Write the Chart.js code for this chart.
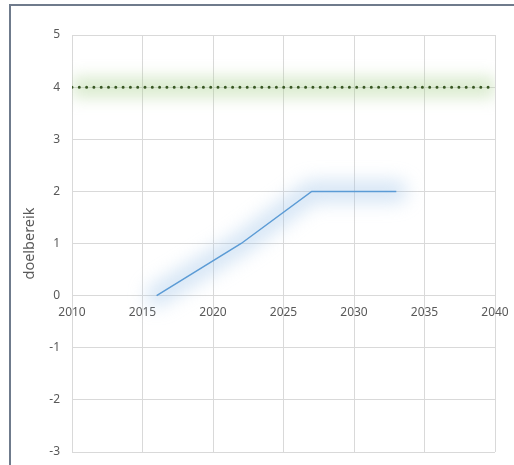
<!DOCTYPE html>
<html>
<head>
<meta charset="utf-8">
<script src="https://cdn.jsdelivr.net/npm/chart.js@4.4.1/dist/chart.umd.min.js"></script>
<style>
  html, body { margin: 0; padding: 0; background: #fff; }
  #frame {
    position: absolute; left: 9px; top: 4px; width: 503px; height: 459px;
    border-left: 2px solid #6f7b8c; border-top: 2px solid #6f7b8c;
  }
  #wrap { position: absolute; left: 0; top: 0; width: 503px; height: 459px; }
</style>
</head>
<body>
<div id="frame"><div id="wrap"><canvas id="chart"></canvas></div></div>
<script>
// data
const years = [2016, 2022, 2027, 2033];
const doelbereik = [0, 1, 2, 2];
const targetYears = [2010, 2040];
const targetValues = [4, 4];
const xRange = [2010, 2040];
const yRange = [-3, 5];

const toPoints = (xs, ys) => xs.map((x, i) => ({ x: x, y: ys[i] }));

// soft glow under the lines, like the spreadsheet effect
const glowPlugin = {
  id: 'glow',
  beforeDatasetDraw(chart, args) {
    const ds = chart.data.datasets[args.index];
    if (ds.glow) {
      chart.ctx.save();
      chart.ctx.filter = 'blur(' + ds.glow + 'px)';
    }
  },
  afterDatasetDraw(chart, args) {
    if (chart.data.datasets[args.index].glow) chart.ctx.restore();
  }
};

// let layout.padding alone decide where the plot area sits
const noScalePadding = scale => {
  scale.paddingLeft = 0;
  scale.paddingRight = 0;
  scale.paddingTop = 0;
  scale.paddingBottom = 0;
};

const gridColor = '#d9d9d9';
const textColor = '#595959';

new Chart(document.getElementById('chart'), {
  type: 'line',
  data: {
    datasets: [
      {
        label: 'doel',
        data: toPoints(targetYears, targetValues),
        borderColor: '#385723',
        borderWidth: 3,
        borderDash: [0, 7.3],
        borderCapStyle: 'round',
        pointRadius: 0,
        fill: false
      },
      {
        label: 'doelbereik',
        data: toPoints(years, doelbereik),
        borderColor: '#5b9bd5',
        borderWidth: 1.5,
        pointRadius: 0,
        fill: false
      },
      {
        label: 'doel glow',
        data: toPoints(targetYears, targetValues),
        borderColor: 'rgba(169,208,142,0.45)',
        borderWidth: 20,
        pointRadius: 0,
        glow: 8
      },
      {
        label: 'doelbereik glow',
        data: toPoints(years, doelbereik),
        borderColor: 'rgba(155,194,230,0.42)',
        borderWidth: 22,
        borderCapStyle: 'round',
        borderJoinStyle: 'round',
        pointRadius: 0,
        glow: 9
      }
    ]
  },
  options: {
    responsive: true,
    maintainAspectRatio: false,
    animation: false,
    events: [],
    layout: { padding: { top: 29, right: 19, bottom: 13, left: 0 } },
    plugins: {
      legend: { display: false },
      tooltip: { enabled: false }
    },
    scales: {
      x: {
        type: 'linear',
        position: { y: 0 },
        min: xRange[0],
        max: xRange[1],
        afterFit: noScalePadding,
        grid: { color: gridColor, drawTicks: false },
        border: { color: gridColor },
        ticks: {
          stepSize: 5,
          padding: 10,
          color: textColor,
          font: { family: 'Noto Sans', size: 12 },
          callback: v => String(v)
        }
      },
      y: {
        min: yRange[0],
        max: yRange[1],
        afterFit: scale => { noScalePadding(scale); scale.width = 61; },
        grid: { color: gridColor, drawTicks: false },
        border: { color: gridColor },
        ticks: {
          stepSize: 1,
          padding: 12,
          color: textColor,
          font: { family: 'Noto Sans', size: 12 }
        },
        title: {
          display: true,
          text: 'doelbereik',
          color: textColor,
          font: { family: 'Noto Sans', size: 14.5 },
          padding: { top: 10, bottom: 0 }
        }
      }
    }
  },
  plugins: [glowPlugin]
});
</script>
</body>
</html>
